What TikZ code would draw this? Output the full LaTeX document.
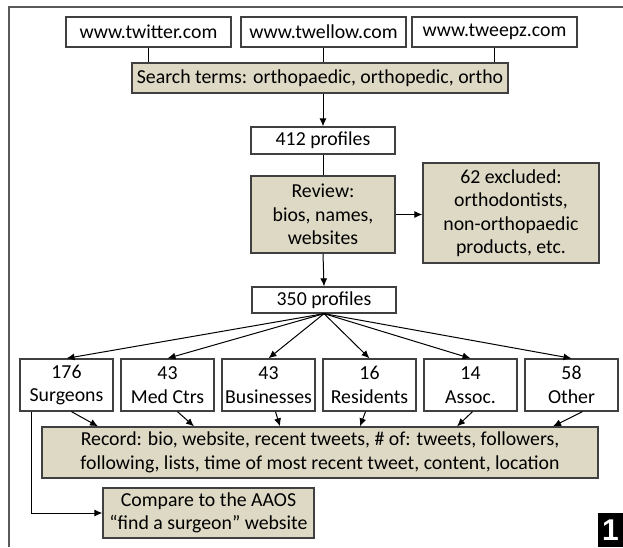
\documentclass[tikz,border=0pt]{standalone}
\usepackage{fontspec}
\setmainfont{Carlito}
\newfontfamily\badgefont{Liberation Sans}
\usetikzlibrary{arrows.meta}
\definecolor{tan}{HTML}{DDD9C4}
\definecolor{framegray}{HTML}{5A5A5A}
\definecolor{boxline}{HTML}{404040}

\begin{document}
\begin{tikzpicture}[x=1pt, y=1pt, >={Latex[length=8pt,width=7pt]}, font=\fontsize{19.8}{23.5}\selectfont,
	parent anchor=south, child anchor=north]
	\tikzstyle{plain}=[draw=boxline, line width=1.3pt, fill=white, align=center, inner sep=0pt]
	\tikzstyle{shaded}=[plain, fill=tan]
	\tikzstyle{site}=[plain, minimum width=165pt, minimum height=30pt]
	\tikzstyle{cat}=[plain, minimum width=93pt, minimum height=52pt]
	\tikzstyle{arrow}=[->, line width=1pt]
	\tikzstyle{level 1}=[level distance=85pt, sibling distance=101pt]
	\tikzstyle{every child node}=[cat, xshift=-5pt]
	\tikzstyle{edge from parent}=[draw, ->, line width=1pt]

	\useasboundingbox (0,0) rectangle (623,-547);
	\draw[framegray, line width=2pt] (623,-7) -- (9,-7) -- (9,-547);

	% sources
	\node[site] (twitter) at (148.5,-32) {www.twitter.com};
	\node[site] (twellow) at (323.5,-32) {www.twellow.com};
	\node[site] (tweepz) at (494.5,-32) {www.tweepz.com};
	\node[shaded, minimum width=376pt, minimum height=30pt] (search) at (320,-78)
		{Search terms: orthopaedic, orthopedic, ortho};
	\node[plain, minimum width=144pt, minimum height=27pt] (p412) at (323,-140.5) {412 profiles};
	\node[shaded, minimum width=144pt, minimum height=77pt] (review) at (323,-214.5)
		{Review:\\bios, names,\\websites};
	\node[shaded, minimum width=176pt, minimum height=100pt] (excluded) at (511,-213)
		{62 excluded:\\orthodontists,\\non-orthopaedic\\products, etc.};

	% categories
	\node[plain, minimum width=144pt, minimum height=26pt] (p350) at (324,-300) {350 profiles}
		child {node (surg) {176\\Surgeons}}
		child {node (medc) {43\\Med Ctrs}}
		child {node (busi) {43\\Businesses}}
		child {node (resi) {16\\Residents}}
		child {node (assoc) {14\\Assoc.}}
		child {node (other) {58\\Other}}
	;

	\node[shaded, minimum width=556pt, minimum height=51pt] (record) at (320,-452.5)
		{Record: bio, website, recent tweets, \# of: tweets, followers,\\following, lists, time of most recent tweet, content, location};
	\node[shaded, minimum width=211pt, minimum height=50pt] (compare) at (208.5,-513)
		{Compare to the AAOS\\“find a surgeon” website};

	\node[fill=black, text=white, minimum width=25pt, minimum height=34pt, inner sep=0pt,
		font={\fontsize{30}{30}\badgefont\bfseries}] (badge) at (610.5,-530) {1};

	% connectors
	\foreach \s in {twitter, twellow, tweepz}
		\draw[line width=1pt] (\s.south) -- (\s.south |- search.north);
	\draw[arrow] (p412.north |- search.south) -- (p412.north);
	\draw[line width=1pt] (p412.south) -- (review.north);
	\draw[arrow] (review.east) -- (review.east -| excluded.west);
	\draw[arrow] (review.south) -- (p350.north);
	\foreach \c/\dx/\ex in {surg/5/98, medc/10/194, busi/7/280, resi/-4/360, assoc/2/457, other/11/553}
		\draw[arrow] ([xshift=\dx pt]\c.south) -- (\ex,0 |- record.north);
	\draw[arrow] ([xshift=12pt]surg.south west) |- (compare.west);
\end{tikzpicture}
\end{document}
